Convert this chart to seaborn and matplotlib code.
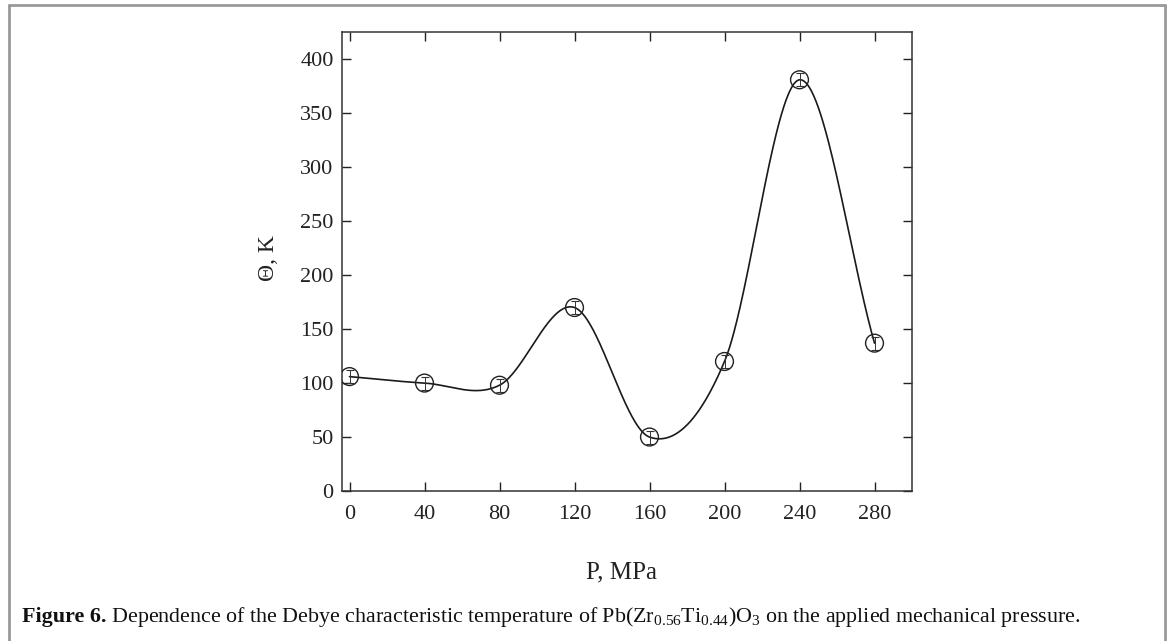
import numpy as np
import matplotlib
matplotlib.use("Agg")
import matplotlib.pyplot as plt
import seaborn as sns
import pandas as pd
from matplotlib.lines import Line2D

# ---- data ----
pressure = [0, 40, 80, 120, 160, 200, 240, 280]
theta = [106, 100, 98, 170, 50, 120, 381, 137]
theta_err = [6, 6, 6, 6, 6, 6, 6, 6]
x_ticks = [0, 40, 80, 120, 160, 200, 240, 280]
y_ticks = [0, 50, 100, 150, 200, 250, 300, 350, 400]
x_label = "P, MPa"
y_label = "Θ, K"
caption_bold = "Figure 6."
caption_rest = (" Dependence of the Debye characteristic temperature of "
                "Pb(Zr$_{0.56}$Ti$_{0.44}$)O$_3$ on the applied mechanical pressure.")

sns.set_style("ticks")
plt.rcParams["font.family"] = ["Liberation Serif", "DejaVu Serif"]
plt.rcParams["mathtext.fontset"] = "custom"
plt.rcParams["mathtext.rm"] = "Liberation Serif"
plt.rcParams["mathtext.it"] = "Liberation Serif:italic"
plt.rcParams["mathtext.bf"] = "Liberation Serif:bold"


def catmull_rom(x, y, xs):
    """Cubic Hermite curve with central-difference (Catmull-Rom) tangents."""
    x = np.asarray(x, float); y = np.asarray(y, float)
    n = len(x)
    m = np.empty(n)
    m[0] = (y[1] - y[0]) / (x[1] - x[0])
    m[-1] = (y[-1] - y[-2]) / (x[-1] - x[-2])
    for i in range(1, n - 1):
        m[i] = (y[i + 1] - y[i - 1]) / (x[i + 1] - x[i - 1])
    out = np.empty_like(xs)
    for k, xv in enumerate(xs):
        i = int(np.clip(np.searchsorted(x, xv, side="right") - 1, 0, n - 2))
        h = x[i + 1] - x[i]
        t = (xv - x[i]) / h
        h00 = 2 * t**3 - 3 * t**2 + 1
        h10 = t**3 - 2 * t**2 + t
        h01 = -2 * t**3 + 3 * t**2
        h11 = t**3 - t**2
        out[k] = h00 * y[i] + h10 * h * m[i] + h01 * y[i + 1] + h11 * h * m[i + 1]
    return out


xs = np.linspace(min(pressure), max(pressure), 700)
ys = catmull_rom(pressure, theta, xs)
curve = pd.DataFrame({"P": xs, "T": ys})
pts = pd.DataFrame({"P": pressure, "T": theta})

fig = plt.figure(figsize=(11.71, 6.41), dpi=100)
ax = fig.add_axes([342 / 1171, 1 - 491 / 641, (912 - 342) / 1171, (491 - 32.3) / 641])

sns.lineplot(data=curve, x="P", y="T", ax=ax, color="#1a1a1a", lw=1.2, sort=False)
ax.errorbar(pressure, theta, yerr=theta_err, fmt="none", ecolor="#333333",
            elinewidth=0.7, capsize=3, capthick=0.8)
sns.scatterplot(data=pts, x="P", y="T", ax=ax, s=165, facecolor="none",
                edgecolor="#222222", linewidth=1.0, zorder=5)

ax.set_xlim(-4, 300)
ax.set_ylim(0, 425)
ax.set_xticks(x_ticks)
ax.set_yticks(y_ticks)
ax.tick_params(direction="in", length=6.2, width=1.0, top=True, right=True,
               labelsize=16, colors="#222222")
ax.tick_params(axis="x", pad=10)
ax.tick_params(axis="y", pad=6)
for s in ax.spines.values():
    s.set_linewidth(1.1)
    s.set_color("#333333")
ax.set_xlabel(x_label, fontsize=18, color="#222222")
ax.xaxis.set_label_coords((621 - 342) / 570, -(572 - 491) / 458.7, transform=ax.transAxes)
ax.xaxis.label.set_va("center")
ax.set_ylabel(y_label, fontsize=17, color="#222222")
ax.yaxis.set_label_coords(-(342 - 268) / 570, (491 - 258) / 458.7, transform=ax.transAxes)
ax.yaxis.label.set_va("center")

# frame around figure
frame_col = "#999999"
fig.add_artist(Line2D([8.5 / 1171, 8.5 / 1171], [0, 1 - 5 / 641], transform=fig.transFigure, color=frame_col, lw=2))
fig.add_artist(Line2D([1165 / 1171, 1165 / 1171], [0, 1 - 5 / 641], transform=fig.transFigure, color=frame_col, lw=2))
fig.add_artist(Line2D([8.5 / 1171, 1165 / 1171], [1 - 5 / 641, 1 - 5 / 641], transform=fig.transFigure, color=frame_col, lw=2))

t1 = fig.text(22 / 1171, 1 - 617 / 641, caption_bold, fontsize=15.8, fontweight="bold",
              va="center", ha="left", color="#111111")
fig.canvas.draw()
bb = t1.get_window_extent()
fig.text(bb.x1 / 1171, 1 - 617 / 641, caption_rest, fontsize=15.8, va="center", ha="left",
         color="#111111")

fig.savefig("out.png", dpi=100)
